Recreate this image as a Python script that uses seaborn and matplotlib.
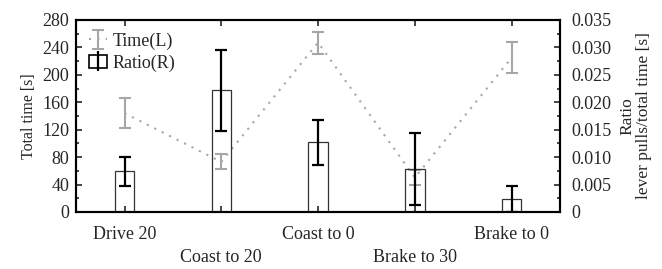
import matplotlib
matplotlib.use("Agg")
import matplotlib.pyplot as plt
import seaborn as sns
import pandas as pd
from matplotlib.patches import Rectangle
from matplotlib.lines import Line2D
from matplotlib.ticker import MultipleLocator, FuncFormatter

maneuvers = ["Drive 20", "Coast to 20", "Coast to 0", "Brake to 30", "Brake to 0"]
time_mean = [144, 73, 247, 50, 225]
time_err = [22, 11, 16, 11, 23]
ratio_mean = [0.0074, 0.0222, 0.0127, 0.0078, 0.0024]
ratio_err = [0.0027, 0.0074, 0.0041, 0.0065, 0.0024]

sns.set_style("ticks")
plt.rcParams["font.family"] = ["Liberation Serif", "DejaVu Serif"]
plt.rcParams["font.size"] = 13

df = pd.DataFrame({"maneuver": maneuvers, "ratio": ratio_mean})

fig, ax = plt.subplots(figsize=(6.62, 2.69), dpi=100)
fig.subplots_adjust(left=0.115, right=0.846, top=0.926, bottom=0.212)
ax2 = ax.twinx()

grey = "#a6a6a6"
xs = list(range(len(maneuvers)))

# time on left axis
tcont = ax.errorbar(xs, time_mean, yerr=time_err, color=grey, ls=(0, (1, 3)),
                    lw=1.5, capsize=4, elinewidth=1.5, capthick=1.5)

# ratio bars on right axis
sns.barplot(data=df, x="maneuver", y="ratio", ax=ax2, width=0.2,
            facecolor="none", edgecolor="#333333", linewidth=0.9, errorbar=None)
ax2.errorbar(xs, ratio_mean, yerr=ratio_err, fmt="none", ecolor="black",
             elinewidth=1.6, capsize=4, capthick=1.6)

ax.set_xlim(-0.5, 4.5)
ax.set_ylim(0, 280)
ax2.set_ylim(0, 0.035)
ax.yaxis.set_major_locator(MultipleLocator(40))
ax.yaxis.set_minor_locator(MultipleLocator(20))
ax2.yaxis.set_major_locator(MultipleLocator(0.005))
ax2.yaxis.set_minor_locator(MultipleLocator(0.0025))
ax2.yaxis.set_major_formatter(FuncFormatter(lambda v, p: "0" if abs(v) < 1e-9 else f"{v:.3f}"))

labels = [m if i % 2 == 0 else "\n" + m for i, m in enumerate(maneuvers)]
ax.set_xticks(xs)
ax.set_xticklabels(labels, linespacing=1.45)
ax2.set_xlabel("")
ax.set_xlabel("")

ax.tick_params(axis="both", which="both", direction="in", top=True, length=4, width=1.2)
ax.tick_params(axis="y", which="minor", length=2.5)
ax.tick_params(axis="x", pad=10)
ax.tick_params(axis="y", pad=5)
ax2.tick_params(axis="y", which="both", direction="in", length=4, width=1.2, pad=8)
ax2.tick_params(axis="y", which="minor", length=2.5)
ax2.tick_params(axis="x", which="both", length=0)

for a in (ax, ax2):
    for s in a.spines.values():
        s.set_visible(True)
        s.set_linewidth(1.5)
        s.set_color("black")

ax.set_ylabel("Total time [s]", fontsize=11.5, labelpad=4)
ax2.set_ylabel("Ratio\nlever pulls/total time [s]", fontsize=12.5, linespacing=1.05, labelpad=6)

bar_handle = (Rectangle((0, 0), 1, 1, facecolor="none", edgecolor="black", lw=1.2),
              Line2D([], [], color="black", marker="|", markersize=15, mew=1.6, ls="none"))
leg = ax2.legend([tcont, bar_handle], ["Time(L)", "Ratio(R)"], loc="upper left",
                 frameon=False, handlelength=1.0, handletextpad=0.3,
                 borderaxespad=0.3, labelspacing=0.25, fontsize=13)

fig.savefig("out.png", dpi=100)
